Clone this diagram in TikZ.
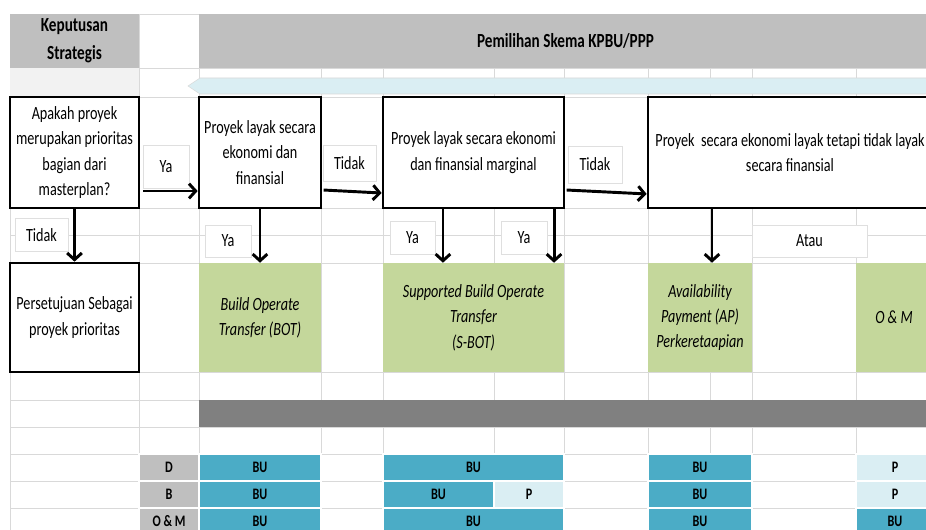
\documentclass[tikz,border=0pt]{standalone}
\usepackage{fontspec}
\setmainfont{Carlito}[FakeStretch=0.76]
\usetikzlibrary{arrows.meta}
\definecolor{kopGray}{RGB}{191,191,191}
\definecolor{gridGray}{RGB}{217,217,217}
\definecolor{rowGray}{RGB}{242,242,242}
\definecolor{bandBlue}{RGB}{218,238,243}
\definecolor{skemaGreen}{RGB}{196,215,155}
\definecolor{darkBar}{RGB}{128,128,128}
\definecolor{buTeal}{RGB}{75,172,198}
\tikzset{every node/.style={align=center, inner sep=0pt, font=\fontsize{14}{19}\selectfont},
    ukuran/.style 2 args={minimum width=#1*0.75pt, minimum height=#2*0.75pt},
    kop/.style={fill=kopGray, font=\fontsize{15}{21}\selectfont\bfseries},
    flowbox/.style={draw, line width=2pt, fill=white},
    skema/.style={fill=skemaGreen, font=\fontsize{14}{19}\selectfont\itshape},
    jawab/.style={fill=white, draw=gray!25},
    sel/.style={draw=white, line width=0.8pt, font=\fontsize{12}{14}\selectfont\bfseries},
    flow/.style={line width=2.2pt, -{Straight Barb[length=5pt, width=11pt]}},
    }

\begin{document}
\begin{tikzpicture}[x=0.75pt, y=-0.75pt]
	\useasboundingbox (0,0) rectangle (926,530);
	\clip (0,0) rectangle (926,530);
	\fill[white] (0,0) rectangle (926,530);
	% grid
	\foreach \gy in {14,68,97,208,235,263,372,400,427,454,481,508}
		\draw[gridGray] (10,\gy) -- (926,\gy);
	\foreach \gx in {10,139,199,321,383,494,564,648,710,752,856}
		\draw[gridGray] (\gx,14) -- (\gx,530);

	\node[kop, ukuran={129}{54}] (kopKeputusan) at (74.5,41) {Keputusan\\Strategis};
	\node[kop, ukuran={733}{54}] (kopSkema) at (565.5,41) {Pemilihan Skema KPBU/PPP};
	\fill[rowGray] (10,68) rectangle (139,97);
	\filldraw[fill=bandBlue, draw=gray!30] (930,78) -- (200,78) -- (188,86) -- (200,94) -- (930,94);

	\node[flowbox, ukuran={129}{111}] (qPrioritas) at (74.5,152.5) {Apakah proyek\\merupakan prioritas\\bagian dari\\masterplan?};
	\node[flowbox, ukuran={122}{111}] (layakBOT) at (260,152.5) {Proyek layak secara\\ekonomi dan\\finansial};
	\node[flowbox, ukuran={181}{111}] (layakSBOT) at (473.5,152.5) {Proyek layak secara ekonomi\\dan finansial marginal};
	\node[flowbox, ukuran={284}{111}] (layakAP) at (790,152.5) {Proyek\ \ secara ekonomi layak tetapi tidak layak\\secara finansial};

	\node[flowbox, ukuran={129}{109}] (setujuPrioritas) at (74.5,317.5) {Persetujuan Sebagai\\proyek prioritas};
	\node[skema, ukuran={122}{109}] (skemaBOT) at (260,317.5) {Build Operate\\Transfer (BOT)};
	\node[skema, ukuran={181}{109}] (skemaSBOT) at (473.5,317.5) {Supported Build Operate\\Transfer\\(S-BOT)};
	\node[skema, ukuran={104}{109}] (skemaAP) at (700,317.5) {Availability\\Payment (AP)\\Perkeretaapian};
	\node[skema, ukuran={76}{109}] (skemaOM) at (894,317.5) {O \& M};

	\node[jawab, ukuran={46}{43}] (yaBOT) at (166,166.5) {Ya};
	\node[jawab, ukuran={53}{36}] (tidakSBOT) at (349.5,163) {Tidak};
	\node[jawab, ukuran={54}{37}] (tidakAP) at (595,164.5) {Tidak};
	\node[jawab, ukuran={53}{33}] (tidakSetuju) at (41.5,235) {Tidak};
	\node[jawab, ukuran={46}{32}] (yaSkemaBOT) at (228,241) {Ya};
	\node[jawab, ukuran={45}{33}] (yaSBOTkiri) at (412.5,237.5) {Ya};
	\node[jawab, ukuran={46}{33}] (yaSBOTkanan) at (524,237.5) {Ya};
	\node[jawab, ukuran={115}{32}] (atauOM) at (809.5,241) {Atau};

	\draw[flow, shorten <=2pt] ([yshift=-28.9pt]qPrioritas.east) -- ([yshift=-28.9pt]layakBOT.west);
	\draw[flow, shorten <=1pt] ([yshift=-28.1pt]layakBOT.east) -- ([yshift=-30.4pt]layakSBOT.west);
	\draw[flow, shorten <=1pt] ([yshift=-28.1pt]layakSBOT.east) -- ([yshift=-31.1pt]layakAP.west);
	\draw[flow] (qPrioritas) -- (setujuPrioritas);
	\draw[flow] (layakBOT) -- (skemaBOT);
	\draw[flow] ([xshift=-22.9pt]layakSBOT.south) -- ([xshift=-22.9pt]skemaSBOT.north);
	\draw[flow] ([xshift=60.4pt]layakSBOT.south) -- ([xshift=60.4pt]skemaSBOT.north);
	\draw[flow] ([xshift=-58.5pt]layakAP.south) -- ([xshift=9pt]skemaAP.north);

	\fill[darkBar] (199,400) rectangle (930,427);

	% D / B / O&M
	\foreach \ty/\tlab/\tnm in {467.5/D/D,494.5/B/B,521.5/O \& M/OM}{
		\node[sel, fill=kopGray, ukuran={60}{27}] (baris\tnm) at (169,\ty) {\tlab};
		\node[sel, fill=buTeal, ukuran={122}{27}] (buBOT\tnm) at (260,\ty) {BU};
		\node[sel, fill=buTeal, ukuran={104}{27}] (buAP\tnm) at (700,\ty) {BU};
	}
	\node[sel, fill=buTeal, ukuran={181}{27}] (buSBOTD) at (473.5,467.5) {BU};
	\node[sel, fill=buTeal, ukuran={111}{27}] (buSBOTB) at (438.5,494.5) {BU};
	\node[sel, fill=bandBlue, ukuran={70}{27}] (pSBOTB) at (529,494.5) {P};
	\node[sel, fill=buTeal, ukuran={181}{27}] (buSBOTOM) at (473.5,521.5) {BU};
	\node[sel, fill=bandBlue, ukuran={78}{27}] (pOMD) at (895,467.5) {P};
	\node[sel, fill=bandBlue, ukuran={78}{27}] (pOMB) at (895,494.5) {P};
	\node[sel, fill=buTeal, ukuran={78}{27}] (buOMOM) at (895,521.5) {BU};
\end{tikzpicture}
\end{document}
